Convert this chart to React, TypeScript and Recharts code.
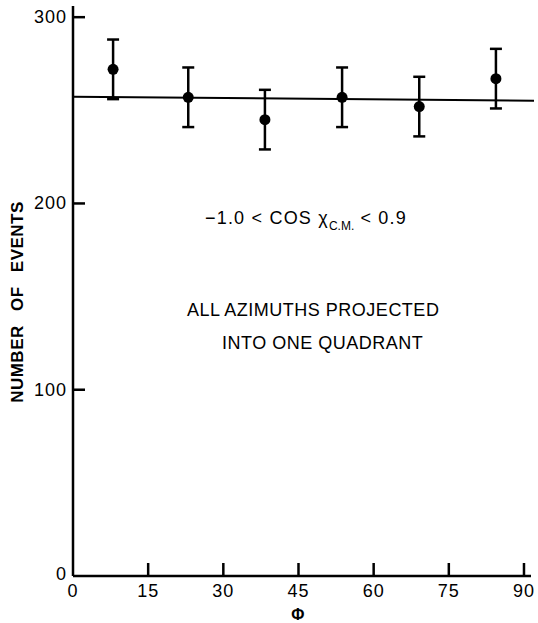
import React from 'react';
import { ComposedChart, Scatter, XAxis, YAxis, ErrorBar, ReferenceLine } from 'recharts';

const phi = [8.0, 23.0, 38.3, 53.7, 69.1, 84.4];
const events = [272, 257, 245, 257, 252, 267];
const errors = [16, 16, 16, 16, 16, 16];
const xTicks = [0, 15, 30, 45, 60, 75, 90];
const yTicks = [0, 100, 200, 300];
const fitX = [0, 92];
const fitY = [257.3, 255.2];

const data = phi.map((x, i) => ({ x, y: events[i], err: errors[i] }));

const FONT = '"Liberation Sans", Arial, sans-serif';

function XTick(props: any) {
  const { x, y, payload } = props;
  return (
    <g>
      {payload.value !== 0 && (
        <line x1={x} y1={y} x2={x} y2={y - 13} stroke="#000" strokeWidth={2.5} />
      )}
      <text x={x} y={y + 15} textAnchor="middle" dominantBaseline="central" fontSize={18} letterSpacing={1} fontFamily={FONT} fill="#000">
        {payload.value}
      </text>
    </g>
  );
}

function YTick(props: any) {
  const { x, y, payload } = props;
  return (
    <g>
      {payload.value !== 0 && (
        <line x1={x} y1={y} x2={x + 12} y2={y} stroke="#000" strokeWidth={2.5} />
      )}
      <text x={x - 6} y={payload.value === 0 ? y - 2 : y} textAnchor="end" dominantBaseline="central" fontSize={18} letterSpacing={1} fontFamily={FONT} fill="#000">
        {payload.value}
      </text>
    </g>
  );
}

const Dot = (props: any) => <circle cx={props.cx} cy={props.cy} r={5.5} fill="#000" />;

const textStyle: React.CSSProperties = {
  position: 'absolute',
  fontFamily: FONT,
  fontSize: 18,
  letterSpacing: 0.5,
  color: '#000',
  whiteSpace: 'nowrap',
  lineHeight: 1,
};

export default function App() {
  return (
    <div style={{ position: 'absolute', left: 0, top: 0, width: 538, height: 623, background: '#fff' }}>
      <ComposedChart width={538} height={623} data={data} margin={{ top: 6, right: 7, bottom: 0, left: 0 }}>
        <XAxis
          type="number"
          dataKey="x"
          domain={[0, 91.4]}
          ticks={xTicks}
          tickSize={0}
          tickMargin={0}
          height={47}
          stroke="#000"
          strokeWidth={2.5}
          tick={<XTick />}
          allowDataOverflow
        />
        <YAxis
          type="number"
          dataKey="y"
          domain={[0, 306]}
          ticks={yTicks}
          tickSize={0}
          tickMargin={0}
          width={73}
          stroke="#000"
          strokeWidth={2.5}
          tick={<YTick />}
          allowDataOverflow
        />
        <ReferenceLine
          segment={[{ x: fitX[0], y: fitY[0] }, { x: fitX[1], y: fitY[1] }]}
          stroke="#000"
          strokeWidth={2}
          ifOverflow="visible"
        />
        <Scatter dataKey="y" fill="#000" shape={Dot} isAnimationActive={false}>
          <ErrorBar dataKey="err" direction="y" width={6} stroke="#000" strokeWidth={2.5} isAnimationActive={false} />
        </Scatter>
      </ComposedChart>

      <div
        style={{
          ...textStyle,
          left: 17,
          top: 302,
          fontSize: 17,
          fontWeight: 'bold',
          letterSpacing: 0.5,
          wordSpacing: 9,
          transform: 'translate(-50%, -50%) rotate(-90deg)',
        }}
      >
        NUMBER OF EVENTS
      </div>

      <div style={{ ...textStyle, left: 205, top: 209, letterSpacing: 1.2 }}>
        −1.0 &lt; COS χ<span style={{ fontSize: 12, position: 'relative', top: 6, letterSpacing: 0 }}>C.M.</span> &lt; 0.9
      </div>
      <div style={{ ...textStyle, left: 187, top: 301 }}>ALL AZIMUTHS PROJECTED</div>
      <div style={{ ...textStyle, left: 222, top: 334 }}>INTO ONE QUADRANT</div>
      <div style={{ ...textStyle, left: 298, top: 615, fontSize: 16, fontWeight: 'bold', transform: 'translate(-50%, -50%)' }}>Φ</div>
    </div>
  );
}
